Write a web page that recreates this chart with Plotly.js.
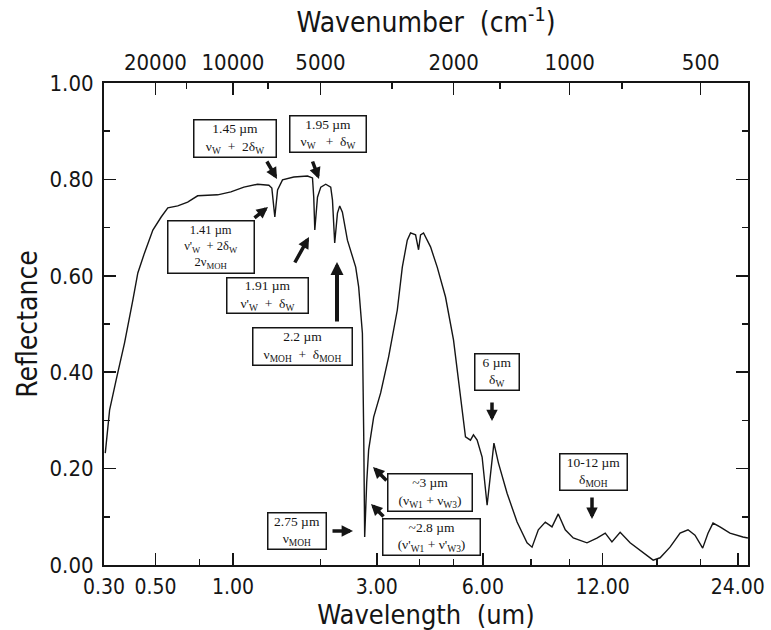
<!DOCTYPE html>
<html><head><meta charset="utf-8">
<script src="https://cdn.plot.ly/plotly-3.0.1.min.js"></script>
<style>html,body{margin:0;padding:0;background:#fff}#chart{width:771px;height:630px}</style>
</head><body><div id="chart"></div>
<script>
// ---- data ----
const wavelength = [0.304,0.318,0.340,0.370,0.402,0.422,0.450,0.488,0.528,0.562,
  0.616,0.674,0.737,0.878,0.983,1.096,1.226,1.343,1.375,1.408,
  1.439,1.496,1.634,1.814,1.884,1.902,1.917,1.956,2.005,2.080,
  2.158,2.186,2.222,2.267,2.305,2.350,2.437,2.526,2.586,2.641,
  2.712,2.737,2.746,2.756,2.795,2.834,2.935,3.081,3.255,3.453,
  3.572,3.693,3.775,3.903,3.981,4.034,4.114,4.307,4.498,4.745,
  4.993,5.153,5.275,5.385,5.555,5.660,5.791,5.972,6.158,6.419,
  6.596,6.950,7.377,7.825,8.057,8.357,8.702,9.043,9.373,9.752,
  10.20,11.01,11.63,12.17,12.62,13.19,13.91,14.90,15.70,16.28,
  17.13,18.03,18.77,19.44,20.20,20.74,21.26,22.00,23.10,24.59,25.19];
const reflectance = [0.232,0.322,0.384,0.461,0.550,0.606,0.647,0.695,0.722,0.741,
  0.745,0.753,0.766,0.768,0.774,0.784,0.790,0.788,0.782,0.722,
  0.778,0.799,0.805,0.807,0.803,0.763,0.695,0.763,0.784,0.790,
  0.784,0.757,0.668,0.730,0.745,0.732,0.674,0.639,0.618,0.577,
  0.481,0.274,0.135,0.058,0.170,0.239,0.307,0.357,0.432,0.529,
  0.618,0.674,0.689,0.685,0.654,0.685,0.689,0.660,0.618,0.556,
  0.467,0.384,0.315,0.266,0.259,0.270,0.259,0.224,0.124,0.253,
  0.212,0.149,0.089,0.046,0.037,0.073,0.089,0.079,0.106,0.073,
  0.056,0.046,0.056,0.066,0.048,0.068,0.046,0.025,0.010,0.015,
  0.037,0.066,0.073,0.062,0.035,0.066,0.087,0.079,0.066,0.058,0.056];

const wavelengthTicks = [0.3,0.5,1,3,6,12,24];
const wavelengthTickText = ["0.30","0.50","1.00","3.00","6.00","12.00","24.00"];
const wavelengthMinor = [0.75,2,4,5,8,10,16,20];
const wavenumberTicks = [20000,10000,5000,2000,1000,500];
const wavenumberTickText = ["20000","10000","5000","2000","1000","500"];
const wavenumberMinor = [15000,7500,3000,1500,750];
const reflectanceTicks = [0,0.2,0.4,0.6,0.8,1.0];
const wavelengthRange = [0.3,25.2];

const bandLabels = [
  "1.45 µm<br>ν<sub>W</sub>  +  2δ<sub>W</sub>",
  "1.95 µm<br>ν<sub>W</sub>   +  δ<sub>W</sub>",
  "1.41 µm<br>ν'<sub>W</sub>  + 2δ<sub>W</sub><br>2ν<sub>MOH</sub>",
  "1.91 µm<br>ν'<sub>W</sub>  +  δ<sub>W</sub>",
  "2.2 µm<br>ν<sub>MOH</sub>  +  δ<sub>MOH</sub>",
  "~3 µm<br>(ν<sub>W1</sub> + ν<sub>W3</sub>)",
  "~2.8 µm<br>(ν'<sub>W1</sub> + ν'<sub>W3</sub>)",
  "2.75 µm<br>ν<sub>MOH</sub>",
  "6 µm<br>δ<sub>W</sub>",
  "10-12 µm<br>δ<sub>MOH</sub>"
];

// ---- layout helpers (positions in page pixels) ----
const K = 0.175;                       // power scale of the original wavelength axis
const T = l => Math.pow(l, K);
const PL = 104, PR = 748, PT = 83, PB = 565;
const px = x => (x - PL) / (PR - PL);
const py = y => (PB - y) / (PB - PT);

const boxPix = [
  [193,119,276,157],[289,116,366,153],[167,220,254,273],[226,277,308,313],
  [252,327,352,365],[387,473,472,511],[382,518,480,555],[267,512,326,549],
  [474,353,519,390],[559,453,627,490]
];
const boxFont = [13.5,13.5,12.5,13.5,13.5,13.5,13.5,13.5,13.5,13.5];
const arrowPix = [ // tail x,y -> head x,y, width
  [266,160,277,179,3.5],[312,160,319,179,3.5],[253,219,268,207,3.5],[294,264,309,237,3.5],
  [337,323,337,262,4],[388,482,373,467,3.5],[385,518,371,504,3.5],[331,531,353,531,3.5],
  [492,401,492,421,3.5],[592,496,592,519,3.5]
];

const SANS = '"Liberation Sans Narrow","DejaVu Sans Condensed","Liberation Sans",Arial,sans-serif';
const SERIF = '"Liberation Serif","Times New Roman",serif';
const INK = '#151515';

const annotations = [];
boxPix.forEach((b, i) => {
  annotations.push({
    xref:'paper', yref:'paper', x: px((b[0]+b[2])/2), y: py((b[1]+b[3])/2),
    xanchor:'center', yanchor:'middle', showarrow:false, text: bandLabels[i],
    width: b[2]-b[0]-4, height: b[3]-b[1]-4, borderpad:1,
    bordercolor: INK, borderwidth:1.5, bgcolor:'white',
    font:{family: SERIF, size: boxFont[i], color: INK}
  });
});
arrowPix.forEach(a => {
  annotations.push({
    xref:'paper', yref:'paper', x: px(a[2]), y: py(a[3]), ax: a[0]-a[2], ay: a[1]-a[3],
    showarrow:true, text:'', arrowhead:2, arrowsize:0.65, arrowwidth:a[4], arrowcolor: INK
  });
});

const xr = [T(wavelengthRange[0]), T(wavelengthRange[1])];
const traces = [
  {x: wavelength.map(T), y: reflectance, type:'scatter', mode:'lines',
   line:{color: INK, width:1.4}, hoverinfo:'skip'},
  {x: [], y: [], xaxis:'x2', type:'scatter', mode:'lines', hoverinfo:'skip'}
];

const layout = {
  width:771, height:630, margin:{l:PL, r:771-PR, t:PT, b:630-PB},
  paper_bgcolor:'white', plot_bgcolor:'white', showlegend:false,
  font:{family: SANS, color: INK},
  xaxis:{
    range: xr, tickmode:'array', tickvals: wavelengthTicks.map(T), ticktext: wavelengthTickText,
    ticks:'inside', ticklen:12, tickwidth:1.5, tickcolor:INK,
    showline:true, linecolor:INK, linewidth:2, mirror:true,
    showgrid:false, zeroline:false, tickfont:{size:21, color:INK},
    minor:{tickmode:'array', tickvals: wavelengthMinor.map(T), ticks:'inside', ticklen:6, tickwidth:1.5, tickcolor:INK, showgrid:false},
    title:{text:'Wavelength  (um)', font:{size:27, color:INK}, standoff:2},
    ticklabelstandoff: 2
  },
  xaxis2:{
    overlaying:'x', side:'top', anchor:'y', range: xr,
    tickmode:'array', tickvals: wavenumberTicks.map(v => T(1e4/v)), ticktext: wavenumberTickText,
    ticks:'inside', ticklen:12, tickwidth:1.5, tickcolor:INK,
    showline:false, showgrid:false, zeroline:false, tickfont:{size:22, color:INK},
    minor:{tickmode:'array', tickvals: wavenumberMinor.map(v => T(1e4/v)), ticks:'inside', ticklen:6, tickwidth:1.5, tickcolor:INK, showgrid:false},
    title:{text:'Wavenumber  (cm<sup>-1</sup>)', font:{size:28, color:INK}, standoff:8},
    ticklabelstandoff: 8
  },
  yaxis:{
    range:[0,1], tickmode:'array', tickvals: reflectanceTicks, tickformat:'.2f',
    ticks:'inside', ticklen:12, tickwidth:1.5, tickcolor:INK,
    showline:true, linecolor:INK, linewidth:2, mirror:'ticks',
    showgrid:false, zeroline:false, tickfont:{size:22, color:INK},
    minor:{dtick:0.1, ticks:'inside', ticklen:6, tickwidth:1.5, tickcolor:INK, showgrid:false},
    title:{text:'Reflectance', font:{size:28, color:INK}, standoff:4},
    ticklabelstandoff: 4
  },
  annotations: annotations
};

Plotly.newPlot('chart', traces, layout, {displayModeBar:false, staticPlot:true});
</script>
</body></html>
